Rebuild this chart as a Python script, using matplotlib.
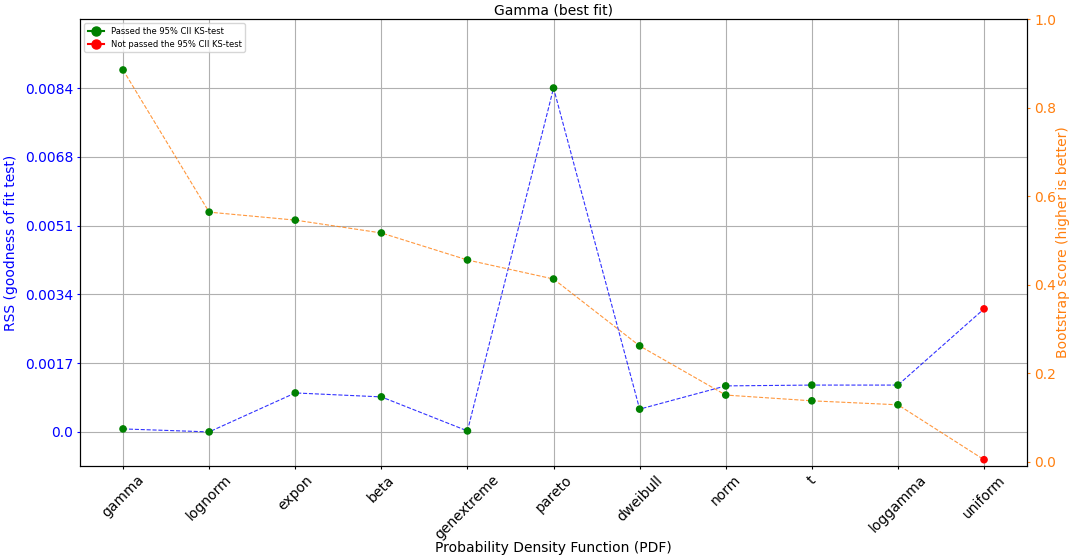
"""
Gamma best fit: RSS and bootstrap score per distribution.
"""

import matplotlib
matplotlib.use("Agg")
import matplotlib.pyplot as plt
from matplotlib.lines import Line2D

distributions = ["gamma", "lognorm", "expon", "beta", "genextreme", "pareto",
                 "dweibull", "norm", "t", "loggamma", "uniform"]
rss = [0.000074, 0.000001, 0.000957, 0.00086, 0.000025, 0.00844,
       0.00056, 0.00113, 0.00115, 0.00115, 0.00302]
bootstrap = [0.885, 0.564, 0.546, 0.517, 0.456, 0.413,
             0.262, 0.151, 0.138, 0.129, 0.005]
passed = [True, True, True, True, True, True, True, True, True, True, False]
rss_ticks = [0.0, 0.001688, 0.003376, 0.005064, 0.006752, 0.00844]
rss_tick_labels = ["0.0", "0.0017", "0.0034", "0.0051", "0.0068", "0.0084"]

x = list(range(len(distributions)))
colors = ["green" if p else "red" for p in passed]
orange = "#ff7f0e"

fig, ax = plt.subplots(figsize=(10.71, 5.6), dpi=100)
fig.subplots_adjust(left=0.0747, right=0.959, top=0.966, bottom=0.168)

# RSS (left axis)
ax.plot(x, rss, "--", color="blue", linewidth=0.8, alpha=0.8)
ax.scatter(x, rss, s=20, c=colors, zorder=3)
ax.set_ylim(-0.000834, 0.010133)
ax.set_yticks(rss_ticks)
ax.set_yticklabels(rss_tick_labels)
ax.tick_params(axis="y", colors="blue", labelsize=10, length=2.5, pad=2.5)
ax.tick_params(axis="x", labelsize=10, length=2.5, pad=2.5)
ax.set_ylabel("RSS (goodness of fit test)", color="blue", fontsize=10, labelpad=5)
ax.set_xlim(-0.5, 10.5)
ax.set_xticks(x)
ax.set_xticklabels(distributions, rotation=45)
ax.set_xlabel("Probability Density Function (PDF)", fontsize=10, labelpad=-1)
ax.set_title("Gamma (best fit)", fontsize=10, pad=3)
ax.grid(True)

# Bootstrap score (right axis)
ax2 = ax.twinx()
ax2.plot(x, bootstrap, "--", color=orange, linewidth=0.8, alpha=0.8)
ax2.scatter(x, bootstrap, s=20, c=colors, zorder=3)
ax2.set_ylim(-0.009, 1.0)
ax2.tick_params(axis="y", colors=orange, labelsize=10, length=2.5, pad=2.5)
ax2.set_ylabel("Bootstrap score (higher is better)", color=orange, fontsize=10, labelpad=0)

handles = [
    Line2D([0], [0], color="green", marker="o", markersize=6.5, label="Passed the 95% CII KS-test"),
    Line2D([0], [0], color="red", marker="o", markersize=6.5, label="Not passed the 95% CII KS-test"),
]
ax.legend(handles=handles, loc="upper left", fontsize=6)

plt.savefig("out.png", dpi=100)
plt.close()
